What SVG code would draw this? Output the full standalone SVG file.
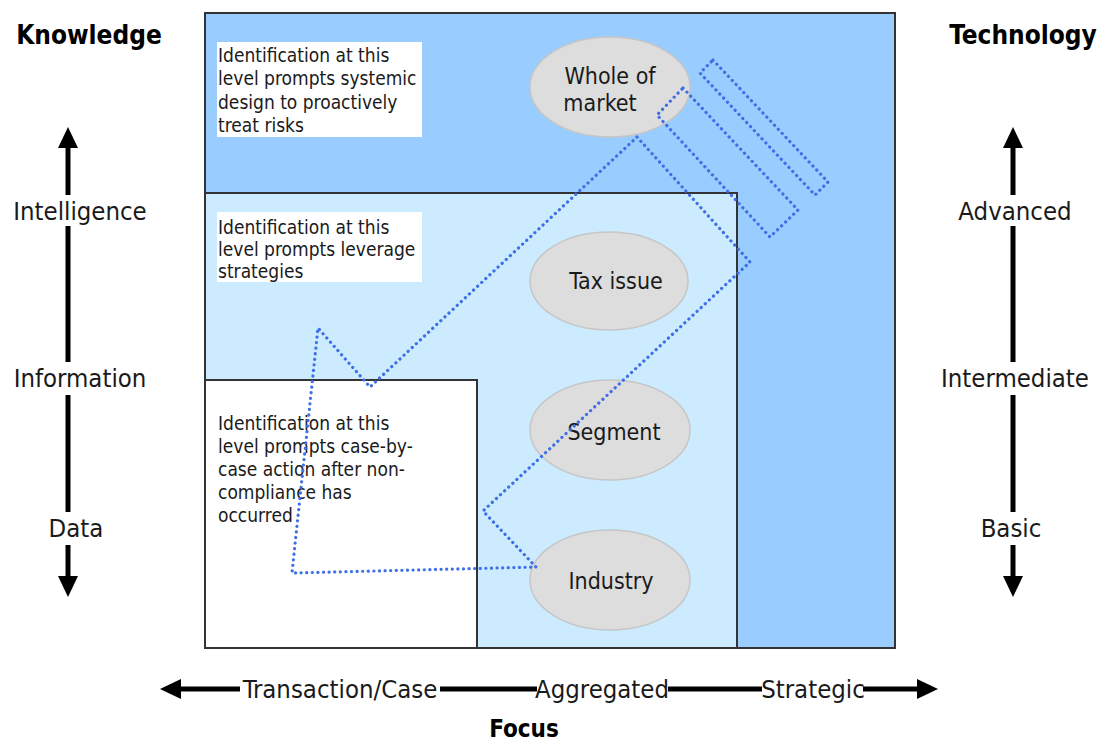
<svg xmlns="http://www.w3.org/2000/svg" width="1101" height="744" viewBox="0 0 1101 744">
<style>
text{font-family:"DejaVu Sans Condensed","DejaVu Sans",sans-serif;font-stretch:condensed;fill:#1a1a1a}
.box{font-size:19px}
.ax{font-size:25.5px;text-anchor:middle}
.hd{font-size:26px;font-weight:bold;text-anchor:middle;fill:#000}
.el{font-size:23px;text-anchor:middle}
.ell{fill:#dddddd;stroke:#c6c6c6;stroke-width:1.5}
.dot{fill:none;stroke:#3f6fe6;stroke-width:3.2;stroke-dasharray:0.1 5.5;stroke-linecap:round;stroke-linejoin:round}
.axl{stroke:#000;stroke-width:5;fill:none}
</style>
<rect width="1101" height="744" fill="#fff"/>
<g id="strategic-level">
<rect x="205" y="13" width="690" height="635" fill="#99ccff" stroke="#333" stroke-width="2"/>
<rect x="217" y="42" width="205" height="95" fill="#fff"/>
<text class="box" x="218" y="62">Identification at this</text>
<text class="box" x="218" y="85">level prompts systemic</text>
<text class="box" x="218" y="109">design to proactively</text>
<text class="box" x="218" y="132">treat risks</text>
</g>
<g id="aggregated-level">
<rect x="205" y="193" width="532" height="455" fill="#cdebff" stroke="#333" stroke-width="2"/>
<rect x="217" y="212" width="205" height="70" fill="#fff"/>
<text class="box" x="218" y="234">Identification at this</text>
<text class="box" x="218" y="256">level prompts leverage</text>
<text class="box" x="218" y="278">strategies</text>
</g>
<g id="case-level">
<rect x="205" y="380" width="272" height="268" fill="#fff" stroke="#333" stroke-width="2"/>
<text class="box" x="218" y="430">Identification at this</text>
<text class="box" x="218" y="453">level prompts case-by-</text>
<text class="box" x="218" y="476">case action after non-</text>
<text class="box" x="218" y="499">compliance has</text>
<text class="box" x="218" y="522">occurred</text>
</g>
<g id="whole-of-market">
<ellipse class="ell" cx="610" cy="87" rx="80" ry="50"/>
<text class="el" x="610" y="84">Whole of</text>
<text class="el" x="600" y="111">market</text>
</g>
<g id="tax-issue">
<ellipse class="ell" cx="609" cy="281" rx="79" ry="49"/>
<text class="el" x="616" y="289">Tax issue</text>
</g>
<g id="segment">
<ellipse class="ell" cx="610" cy="430" rx="80" ry="50"/>
<text class="el" x="614" y="440">Segment</text>
</g>
<g id="industry">
<ellipse class="ell" cx="610" cy="580" rx="80" ry="50"/>
<text class="el" x="611" y="589">Industry</text>
</g>
<g id="connectors">
<path class="dot" d="M637,137 L750,262 L483,511 L536,567 L292,573 L318,328 L370,387 Z"/>
<path class="dot" d="M683,88 L798,210 L770,237 L657,115 Z"/>
<path class="dot" d="M713,60 L828,182 L815,195 L700,73 Z"/>
</g>
<g id="knowledge-axis">
<text class="hd" x="89" y="44">Knowledge</text>
<path d="M68,127 L78,148 L58,148 Z" fill="#000"/>
<line class="axl" x1="68" y1="147" x2="68" y2="195"/>
<line class="axl" x1="68" y1="226" x2="68" y2="362"/>
<line class="axl" x1="68" y1="395" x2="68" y2="512"/>
<line class="axl" x1="68" y1="545" x2="68" y2="578"/>
<path d="M68,597 L78,576 L58,576 Z" fill="#000"/>
<text class="ax" x="80" y="220">Intelligence</text>
<text class="ax" x="80" y="387">Information</text>
<text class="ax" x="76" y="537">Data</text>
</g>
<g id="technology-axis">
<text class="hd" x="1023" y="44">Technology</text>
<path d="M1013,127 L1023,148 L1003,148 Z" fill="#000"/>
<line class="axl" x1="1013" y1="147" x2="1013" y2="195"/>
<line class="axl" x1="1013" y1="226" x2="1013" y2="362"/>
<line class="axl" x1="1013" y1="395" x2="1013" y2="512"/>
<line class="axl" x1="1013" y1="545" x2="1013" y2="578"/>
<path d="M1013,597 L1023,576 L1003,576 Z" fill="#000"/>
<text class="ax" x="1015" y="220">Advanced</text>
<text class="ax" x="1015" y="387">Intermediate</text>
<text class="ax" x="1011" y="537">Basic</text>
</g>
<g id="focus-axis">
<path d="M160,689 L181,679 L181,699 Z" fill="#000"/>
<line class="axl" x1="180" y1="689" x2="240" y2="689"/>
<line class="axl" x1="440" y1="689" x2="537" y2="689"/>
<line class="axl" x1="668" y1="689" x2="762" y2="689"/>
<line class="axl" x1="863" y1="689" x2="919" y2="689"/>
<path d="M938,689 L917,679 L917,699 Z" fill="#000"/>
<text class="ax" x="340" y="698">Transaction/Case</text>
<text class="ax" x="602" y="698">Aggregated</text>
<text class="ax" x="813" y="698">Strategic</text>
<text class="hd" x="524" y="737" style="font-size:24px">Focus</text>
</g>
</svg>
